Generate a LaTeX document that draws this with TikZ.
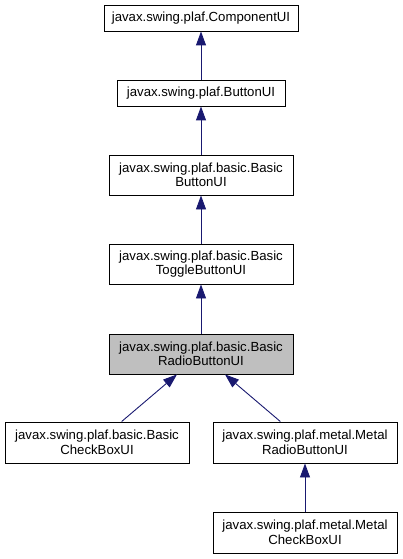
\documentclass[tikz,border=0pt]{standalone}
\usepackage{fontspec}
\setmainfont{Liberation Sans}
\usetikzlibrary{arrows.meta}
\definecolor{edgeblue}{HTML}{191970}
\definecolor{curgray}{HTML}{BFBFBF}

\tikzset{
  cls/.style={draw=black, fill=white, line width=0.9pt, align=center, inner sep=1pt,
    minimum width=184pt, minimum height=40pt, font=\fontsize{13.2}{14.5}\selectfont},
  clsone/.style={cls, minimum height=26pt},
  inherit/.style={draw=edgeblue, line width=0.9pt, -{Triangle[width=10pt,length=14pt]}}
}

\begin{document}
\begin{tikzpicture}[x=1pt, y=-1pt]
  \useasboundingbox (0,0) rectangle (403,559);
  \node[clsone, minimum width=194pt] (comp) at (201,18) {javax.swing.plaf.ComponentUI};
  \node[clsone, minimum width=168pt] (btn) at (201,93) {javax.swing.plaf.ButtonUI};
  \node[cls] (basicbtn) at (201,175) {javax.swing.plaf.basic.Basic\\ButtonUI};
  \node[cls] (toggle) at (201,264) {javax.swing.plaf.basic.Basic\\ToggleButtonUI};
  \node[cls, fill=curgray] (radio) at (201,354) {javax.swing.plaf.basic.Basic\\RadioButtonUI};
  \node[cls, minimum height=41pt] (checkbox) at (97,442.5) {javax.swing.plaf.basic.Basic\\CheckBoxUI};
  \node[cls, minimum height=41pt] (metalradio) at (305,442.5) {javax.swing.plaf.metal.Metal\\RadioButtonUI};
  \node[cls, minimum height=41pt] (metalcheck) at (305,532.5) {javax.swing.plaf.metal.Metal\\CheckBoxUI};

  \draw[inherit] (btn) -- (comp);
  \draw[inherit] (basicbtn) -- (btn);
  \draw[inherit] (toggle) -- (basicbtn);
  \draw[inherit] (radio) -- (toggle);
  \draw[inherit] (checkbox) -- (radio);
  \draw[inherit] (metalradio) -- (radio);
  \draw[inherit] (metalcheck) -- (metalradio);
\end{tikzpicture}
\end{document}
